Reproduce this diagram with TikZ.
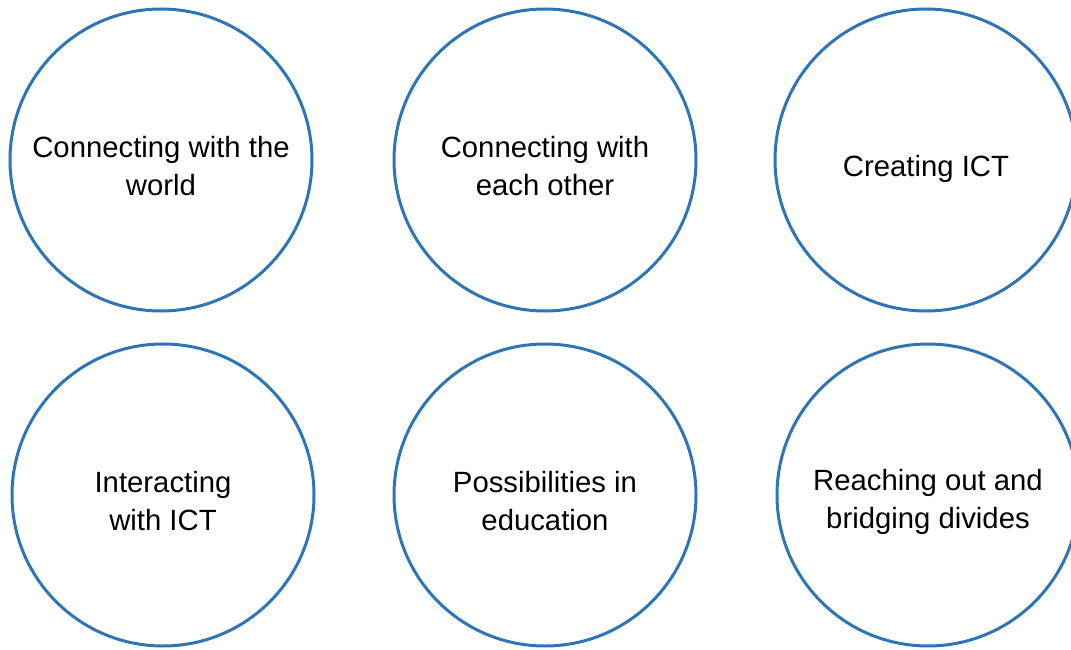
\documentclass[tikz,border=0pt]{standalone}
\usepackage{fontspec}
\setmainfont{Liberation Sans}
\definecolor{ringblue}{RGB}{46,117,182}
\begin{document}
\begin{tikzpicture}[x=1pt,y=-1pt,
  ring/.style={circle, draw=ringblue, line width=3pt, minimum size=302pt, inner sep=0pt},
  lbl/.style={align=center, inner sep=0pt, font=\fontsize{29.3}{38}\selectfont}]
\useasboundingbox (0,0) rectangle (1071,650);
\clip (0,0) rectangle (1071,650);
\node[ring] (c1) at (161,160) {};
\node[ring] (c2) at (545,160) {};
\node[ring] (c3) at (926,160) {};
\node[ring] (c4) at (163,495) {};
\node[ring] (c5) at (545,495) {};
\node[ring] (c6) at (928,495) {};
\node[lbl] (t1) at ([yshift=-6pt]c1.center) {Connecting with the\\world};
\node[lbl] (t2) at ([yshift=-6pt]c2.center) {Connecting with\\each other};
\node[lbl] (t3) at ([yshift=-9pt]c3.center) {Creating ICT};
\node[lbl] (t4) at ([yshift=-6pt]c4.center) {Interacting\\with ICT};
\node[lbl] (t5) at ([yshift=-6pt]c5.center) {Possibilities in\\education};
\node[lbl] (t6) at ([yshift=-7pt]c6.center) {Reaching out and\\bridging divides};
\end{tikzpicture}
\end{document}
